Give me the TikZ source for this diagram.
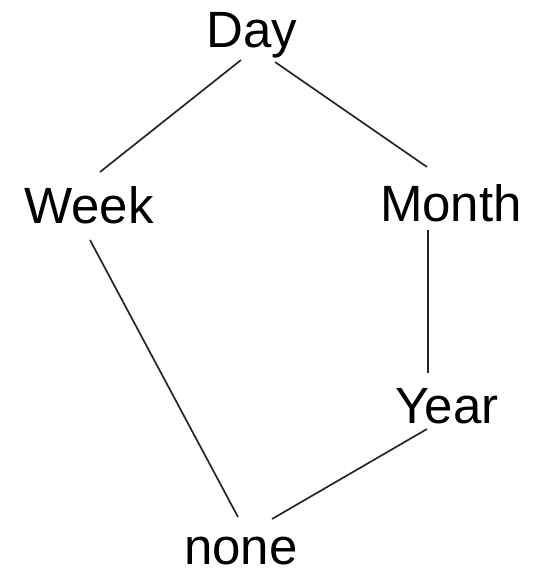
\documentclass[tikz,border=0pt]{standalone}
\usepackage{fontspec}
\setmainfont{Liberation Sans}

\begin{document}
\begin{tikzpicture}[x=1pt,y=-1pt,
  lbl/.style={inner sep=0pt,anchor=base,font=\fontsize{51}{60}\selectfont},
  link/.style={line width=1.7pt,black!85}]
\useasboundingbox (0,0) rectangle (535,570);
\node[lbl] (day) at (252,47) {Day};
\node[lbl] (week) at (89,223) {Week};
\node[lbl] (month) at (451,221) {Month};
\node[lbl] (year) at (447,423) {Year};
\node[lbl] (none) at (241,564) {none};
\draw[link] ([shift={(-11,13)}]day.base)--([shift={(11,-51)}]week.base);
\draw[link] ([shift={(23,15)}]day.base)--([shift={(-24,-54)}]month.base);
\draw[link] ([shift={(1,17)}]week.base)--([shift={(-3,-47)}]none.base);
\draw[link] ([shift={(-23,9)}]month.base)--([shift={(-19,-50)}]year.base);
\draw[link] ([shift={(-20,6)}]year.base)--([shift={(31,-45)}]none.base);
\end{tikzpicture}
\end{document}
